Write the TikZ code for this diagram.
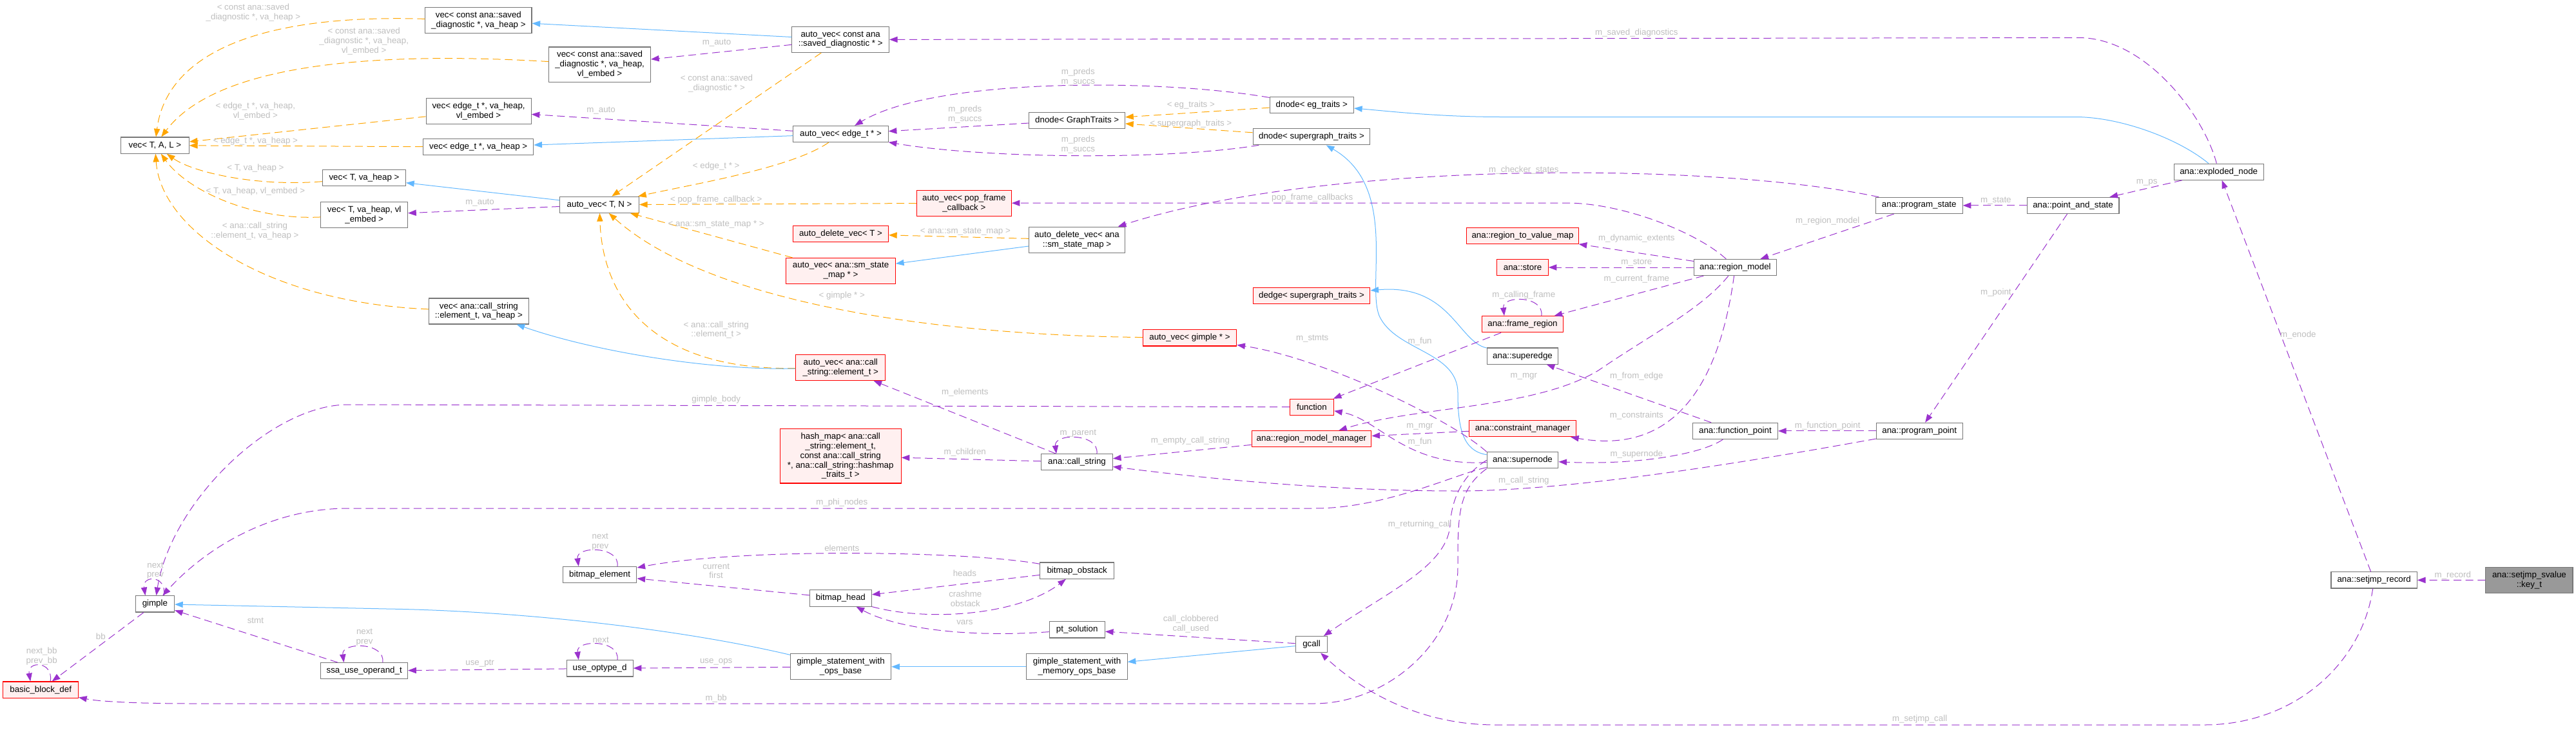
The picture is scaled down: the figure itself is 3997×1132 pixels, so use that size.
\documentclass[tikz,border=0pt]{standalone}
\usepackage{fontspec}
\setmainfont{Liberation Sans}
\usetikzlibrary{arrows.meta}

\definecolor{memberline}{HTML}{9A32CD}
\definecolor{templline}{HTML}{FFA500}
\definecolor{inheritblue}{HTML}{63B8FF}
\definecolor{boxgray}{HTML}{777777}
\definecolor{redfill}{HTML}{FFF0F0}
\definecolor{keyfill}{HTML}{999999}
\definecolor{labelgray}{HTML}{BEBEBE}

\begin{document}
\begin{tikzpicture}[x=0.75pt, y=-0.75pt,
  font=\fontsize{10}{11.1}\selectfont,
  cls/.style={rectangle, draw=boxgray, fill=white, line width=0.8pt, align=center, inner sep=2pt, minimum height=18.9pt},
  twolines/.style={minimum height=30pt},
  threelines/.style={minimum height=40.8pt},
  fivelines/.style={minimum height=63.3pt},
  undoc/.style={cls, draw=red, fill=redfill},
  focus/.style={cls, fill=keyfill},
  usage/.style={draw=memberline, line width=0.75pt, dash pattern=on 9pt off 5pt, -{Triangle[length=9.5pt,width=7pt]}},
  inst/.style={usage, draw=templline},
  inherit/.style={draw=inheritblue, line width=0.75pt, -{Triangle[length=9.5pt,width=7pt]}},
  elabel/.style={text=labelgray, align=center, inner sep=0pt}]
\useasboundingbox (0,0) rectangle (3997,1132);

% vec and auto_vec family
\node[cls, minimum width=79.4pt] (vecTAL) at (240.4,225.6) {vec< T, A, L >};
\node[cls, minimum width=96.8pt] (vecTva) at (565,276.3) {vec< T, va\_heap >};
\node[cls, twolines, minimum width=101.1pt] (vecTvl) at (565.2,333.7) {vec< T, va\_heap, vl\\\_embed >};
\node[cls, twolines, minimum width=123.9pt] (vecSDva) at (742.4,31.9) {vec< const ana::saved\\\_diagnostic *, va\_heap >};
\node[cls, twolines, minimum width=122.3pt] (vecEvl) at (742.6,172.2) {vec< edge\_t *, va\_heap,\\vl\_embed >};
\node[cls, minimum width=128.3pt] (vecEva) at (742.2,228.1) {vec< edge\_t *, va\_heap >};
\node[cls, twolines, minimum width=115.9pt] (vecCSva) at (742.9,483) {vec< ana::call\_string\\::element\_t, va\_heap >};
\node[cls, threelines, minimum width=118.2pt] (vecSDvl) at (930.6,100.2) {vec< const ana::saved\\\_diagnostic *, va\_heap,\\vl\_embed >};
\node[cls, minimum width=92.1pt] (autovecTN) at (930.1,317.8) {auto\_vec< T, N >};
\node[cls, twolines, minimum width=112.9pt] (autovecSD) at (1304.2,61.5) {auto\_vec< const ana\\::saved\_diagnostic * >};
\node[cls, minimum width=110.5pt] (autovecE) at (1304.5,208) {auto\_vec< edge\_t * >};
\node[undoc, minimum width=111pt] (autodelT) at (1304.5,363) {auto\_delete\_vec< T >};
\node[undoc, twolines, minimum width=127.3pt] (autovecSM) at (1304.5,420.4) {auto\_vec< ana::sm\_state\\\_map * >};
\node[undoc, twolines, minimum width=104.3pt] (autovecCS) at (1304.3,570.5) {auto\_vec< ana::call\\\_string::element\_t >};
\node[undoc, fivelines, minimum width=140.9pt] (hashmap) at (1304.2,707.8) {hash\_map< ana::call\\\_string::element\_t,\\ const ana::call\_string\\ *, ana::call\_string::hashmap\\\_traits\_t >};
\node[undoc, twolines, minimum width=110.2pt] (popframe) at (1495.8,315.2) {auto\_vec< pop\_frame\\\_callback >};
\node[cls, twolines, minimum width=111.8pt] (autodelSM) at (1671,372.2) {auto\_delete\_vec< ana\\::sm\_state\_map >};
\node[undoc, minimum width=109.1pt] (autovecG) at (1846,524.4) {auto\_vec< gimple * >};
% graph nodes and edges
\node[cls, minimum width=111.5pt] (dnodeGT) at (1671.2,186.7) {dnode< GraphTraits >};
\node[cls, minimum width=97.7pt] (dnodeEG) at (2035.3,162.8) {dnode< eg\_traits >};
\node[cls, minimum width=136.3pt] (dnodeSG) at (2035,212.2) {dnode< supergraph\_traits >};
\node[undoc, minimum width=136.3pt] (dedgeSG) at (2035,458.9) {dedge< supergraph\_traits >};
% analyzer classes
\node[undoc, minimum width=129.9pt] (r2v) at (2362.5,366) {ana::region\_to\_value\_map};
\node[undoc, minimum width=59.6pt] (store) at (2362.5,415) {ana::store};
\node[undoc, minimum width=95.1pt] (frame) at (2362.5,503.3) {ana::frame\_region};
\node[cls, minimum width=83pt] (superedge) at (2362.5,552.6) {ana::superedge};
\node[undoc, minimum width=124.5pt] (cm) at (2362.5,665.2) {ana::constraint\_manager};
\node[cls, minimum width=83pt] (supernode) at (2362.5,714.3) {ana::supernode};
\node[undoc, minimum width=51.2pt] (function) at (2035.4,631.7) {function};
\node[undoc, minimum width=139.3pt] (rmm) at (2034.9,681.1) {ana::region\_model\_manager};
\node[cls, minimum width=37.2pt] (gcall) at (2035,1000.2) {gcall};
\node[cls, minimum width=95.8pt] (regionmodel) at (2692.4,415) {ana::region\_model};
\node[cls, minimum width=99.1pt] (fpoint) at (2692.4,668.9) {ana::function\_point};
\node[cls, minimum width=101.1pt] (progstate) at (2977.7,318.9) {ana::program\_state};
\node[cls, minimum width=100.4pt] (ppoint) at (2978.2,668.9) {ana::program\_point};
\node[cls, minimum width=107.2pt] (pands) at (3216.5,318.9) {ana::point\_and\_state};
\node[cls, minimum width=104pt] (enode) at (3442.7,266.7) {ana::exploded\_node};
\node[cls, minimum width=100pt] (sjrecord) at (3683.6,900.4) {ana::setjmp\_record};
\node[focus, twolines, minimum width=101.3pt] (keyt) at (3924.4,900.2) {ana::setjmp\_svalue\\::key\_t};
% gcc internals
\node[cls, minimum width=83pt] (callstring) at (1671,717.2) {ana::call\_string};
\node[cls, minimum width=86pt] (bmobstack) at (1671.2,885.6) {bitmap\_obstack};
\node[cls, minimum width=64.7pt] (ptsol) at (1671.2,977.4) {pt\_solution};
\node[cls, twolines, minimum width=117.2pt] (gswmob) at (1671,1034.8) {gimple\_statement\_with\\\_memory\_ops\_base};
\node[cls, twolines, minimum width=117.2pt] (gswob) at (1304.5,1034.8) {gimple\_statement\_with\\\_ops\_base};
\node[cls, minimum width=72pt] (bmhead) at (1304.3,928.5) {bitmap\_head};
\node[cls, minimum width=86pt] (bmelem) at (930.6,892.2) {bitmap\_element};
\node[cls, minimum width=77.3pt] (useopt) at (930.6,1037.4) {use\_optype\_d};
\node[cls, minimum width=101.1pt] (ssause) at (565.2,1041.3) {ssa\_use\_operand\_t};
\node[cls, minimum width=45.2pt] (gimple) at (240.4,937.4) {gimple};
\node[undoc, minimum width=87.4pt] (bbdef) at (63.2,1070.6) {basic\_block\_def};

% Template instances
\draw[inst] (vecSDva) .. controls (350,20) and (255,110) .. (vecTAL)
  node[elabel] (e1) at (392.9,19.3) {< const ana::saved\\\_diagnostic *, va\_heap >};
\draw[inst] (vecSDvl) .. controls (500,75) and (320,120) .. (vecTAL)
  node[elabel] (e2) at (564.7,63.7) {< const ana::saved\\\_diagnostic *, va\_heap,\\vl\_embed >};
\draw[inst] (vecEvl) -- (vecTAL) node[elabel] (e3) at (396.4,172.6) {< edge\_t *, va\_heap,\\vl\_embed >};
\draw[inst] (vecEva) -- (vecTAL) node[elabel] (e4) at (396.4,219.3) {< edge\_t *, va\_heap >};
\draw[inst] (vecTva) .. controls (400,290) and (300,268) .. (vecTAL) node[elabel] (e5) at (396.4,261.5) {< T, va\_heap >};
\draw[inst] (vecTvl) .. controls (390,342) and (290,295) .. (vecTAL) node[elabel] (e6) at (396.4,297.4) {< T, va\_heap, vl\_embed >};
\draw[inst] (vecCSva) .. controls (420,470) and (250,360) .. (vecTAL)
  node[elabel] (e7) at (395.5,358.3) {< ana::call\_string\\::element\_t, va\_heap >};
\draw[inst] (autovecSD) -- (autovecTN) node[elabel] (e8) at (1112,129.6) {< const ana::saved\\\_diagnostic * >};
\draw[inst] (autovecE) .. controls (1230,260) and (1080,285) .. (autovecTN) node[elabel] (e9) at (1111.2,257.8) {< edge\_t * >};
\draw[inst] (popframe) -- (autovecTN) node[elabel] (e10) at (1111.2,309.6) {< pop\_frame\_callback >};
\draw[inst] (autovecSM) -- (autovecTN) node[elabel] (e11) at (1111.2,348.1) {< ana::sm\_state\_map * >};
\draw[inst] (autovecG) .. controls (1450,520) and (1100,470) .. (autovecTN) node[elabel] (e12) at (1306.3,459.3) {< gimple * >};
\draw[inst] (autovecCS) .. controls (1020,575) and (935,470) .. (autovecTN)
  node[elabel] (e13) at (1111.2,511.9) {< ana::call\_string\\::element\_t >};
\draw[inst] (autodelSM) -- (autodelT) node[elabel] (e14) at (1497.8,359.3) {< ana::sm\_state\_map >};
\draw[inst] (dnodeEG) -- (dnodeGT) node[elabel] (e15) at (1847.8,163) {< eg\_traits >};
\draw[inst] (dnodeSG) -- (dnodeGT) node[elabel] (e16) at (1847.8,192.2) {< supergraph\_traits >};

% Base classes
\draw[inherit] (autovecSD) -- (vecSDva);
\draw[inherit] (autovecE) -- (vecEva);
\draw[inherit] (autovecTN) -- (vecTva);
\draw[inherit] (autovecCS) .. controls (1100,575) and (920,545) .. (vecCSva);
\draw[inherit] (autodelSM) -- (autovecSM);
\draw[inherit] (enode) .. controls (3380,215) and (3290,181.5) .. (3220,181.5) -- (2330,181.5)
  .. controls (2230,181.5) and (2150,172) .. (dnodeEG);
\draw[inherit] (supernode) .. controls (2270,700) and (2262,665) .. (2262,610)
  .. controls (2262,545) and (2165,545) .. (2140,490) .. controls (2120,440) and (2170,290) .. (dnodeSG);
\draw[inherit] (superedge) .. controls (2262,530) and (2250,440) .. (dedgeSG);
\draw[inherit] (gswob) .. controls (1050,975) and (800,948) .. (600,945) -- (gimple);
\draw[inherit] (gswmob) -- (gswob);
\draw[inherit] (gcall) -- (gswmob);

% Members
\draw[usage] (enode) .. controls (3420,180) and (3330,58.5) .. (3225,58.5) -- (autovecSD)
  node[elabel] (e17) at (2539.3,50.7) {m\_saved\_diagnostics};
\draw[usage] (autovecSD) -- (vecSDvl) node[elabel] (e18) at (1112,66.7) {m\_auto};
\draw[usage] (autovecE) -- (vecEvl) node[elabel] (e19) at (932.6,171.1) {m\_auto};
\draw[usage] (autovecTN) -- (vecTvl) node[elabel] (e20) at (744.6,314.8) {m\_auto};
\draw[usage] (dnodeGT) -- (autovecE) node[elabel] (e21) at (1497.3,177.8) {m\_preds\\m\_succs};
\draw[usage] (dnodeEG) .. controls (1800,122) and (1450,120) .. (autovecE) node[elabel] (e22) at (1672.8,119.3) {m\_preds\\m\_succs};
\draw[usage] (dnodeSG) .. controls (1800,250) and (1520,245) .. (autovecE) node[elabel] (e23) at (1672.8,224.8) {m\_preds\\m\_succs};
\draw[usage] (regionmodel) .. controls (2635,362) and (2520,315) .. (2430,315) -- (popframe)
  node[elabel] (e24) at (2036.2,307.4) {pop\_frame\_callbacks};
\draw[usage] (progstate) .. controls (2650,250) and (2050,250) .. (autodelSM) node[elabel] (e25) at (2364.3,264) {m\_checker\_states};
\draw[usage] (progstate) -- (regionmodel) node[elabel] (e26) at (2835.7,343.3) {m\_region\_model};
\draw[usage] (pands) -- (progstate) node[elabel] (e27) at (3096.9,311.1) {m\_state};
\draw[usage] (enode) -- (pands) node[elabel] (e28) at (3331.1,283.3) {m\_ps};
\draw[usage] (pands) -- (ppoint) node[elabel] (e29) at (3096.9,453.7) {m\_point};
\draw[usage] (ppoint) -- (fpoint) node[elabel] (e30) at (2835.7,660.7) {m\_function\_point};
\draw[usage] (fpoint) .. controls (2640,705) and (2540,722) .. (supernode) node[elabel] (e31) at (2539.3,704.8) {m\_supernode};
\draw[usage] (ppoint) .. controls (2750,710) and (2450,762) .. (2262,762) .. controls (2050,762) and (1850,740) .. (callstring)
  node[elabel] (e32) at (2364.3,746.3) {m\_call\_string};
\draw[usage] (regionmodel) .. controls (2640,480) and (2560,520) .. (2480,575) .. controls (2380,635) and (2200,630) .. (rmm)
  node[elabel] (e33) at (2364.3,584.1) {m\_mgr};
\draw[usage] (regionmodel) .. controls (2660,650) and (2560,700) .. (cm) node[elabel] (e34) at (2539.3,644.8) {m\_constraints};
\draw[usage] (regionmodel) -- (r2v) node[elabel] (e35) at (2539.3,369.6) {m\_dynamic\_extents};
\draw[usage] (regionmodel) -- (store) node[elabel] (e36) at (2539.3,407.4) {m\_store};
\draw[usage] (regionmodel) -- (frame) node[elabel] (e37) at (2539.3,433.3) {m\_current\_frame};
\draw[usage] ([xshift=22pt]frame.north) .. controls ([xshift=25pt,yshift=24pt]frame.north) and ([xshift=-24pt,yshift=24pt]frame.north) .. ([xshift=-21.4pt]frame.north)
  node[elabel] (e38) at (2364.3,458.5) {m\_calling\_frame};
\draw[usage] (supernode) .. controls (2180,725) and (2140,650) .. (function) node[elabel] (e39) at (2203.1,686.3) {m\_fun};
\draw[usage] (frame) -- (function) node[elabel] (e40) at (2203.1,529.6) {m\_fun};
\draw[usage] (supernode.north west) .. controls (2250,650) and (2050,555) .. (autovecG) node[elabel] (e41) at (2036.2,525.9) {m\_stmts};
\draw[usage] (supernode.west) .. controls (2265,740) and (2252,780) .. (2250,815) .. controls (2245,880) and (2150,920) .. (gcall)
  node[elabel] (e42) at (2203.1,814.1) {m\_returning\_call};
\draw[usage] (supernode.south west) .. controls (2262,760) and (2262,800) .. (2262,880) .. controls (2262,1000) and (2150,1092) .. (2039,1092)
  -- (300,1092) .. controls (200,1092) and (150,1088) .. (bbdef) node[elabel] (e43) at (1111.2,1083.7) {m\_bb};
\draw[usage] (supernode) .. controls (2260,735) and (2150,789) .. (2040,789) -- (540,789) .. controls (420,789) and (320,850) .. (gimple)
  node[elabel] (e44) at (1306.3,780.4) {m\_phi\_nodes};
\draw[usage] (function) -- (540,628) .. controls (420,628) and (265,780) .. (gimple) node[elabel] (e45) at (1111.2,619.6) {gimple\_body};
\draw[usage] (callstring) -- (autovecCS) node[elabel] (e46) at (1497.3,609.3) {m\_elements};
\draw[usage] ([xshift=23.2pt]callstring.north) .. controls ([xshift=26pt,yshift=24pt]callstring.north) and ([xshift=-27pt,yshift=24pt]callstring.north) .. ([xshift=-24pt]callstring.north)
  node[elabel] (e47) at (1672.8,672.2) {m\_parent};
\draw[usage] (callstring) -- (hashmap) node[elabel] (e48) at (1497.3,702.2) {m\_children};
\draw[usage] (rmm) -- (callstring) node[elabel] (e49) at (1846.9,683.7) {m\_empty\_call\_string};
\draw[usage] (cm) -- (rmm) node[elabel] (e50) at (2203.1,662.2) {m\_mgr};
\draw[usage] (fpoint) -- (superedge) node[elabel] (e51) at (2539.3,584.1) {m\_from\_edge};
\draw[usage] (sjrecord) -- (enode) node[elabel] (e52) at (3565.8,519.6) {m\_enode};
\draw[usage] (sjrecord) .. controls (3665,1030) and (3560,1125) .. (3420,1125) -- (2320,1125) .. controls (2200,1125) and (2110,1070) .. (gcall)
  node[elabel] (e53) at (2978.6,1116) {m\_setjmp\_call};
\draw[usage] (keyt) -- (sjrecord) node[elabel] (e54) at (3805.8,892.6) {m\_record};
\draw[usage] (gcall) -- (ptsol) node[elabel] (e55) at (1847.8,968.5) {call\_clobbered\\call\_used};
\draw[usage] (ptsol) .. controls (1500,990) and (1390,975) .. (bmhead) node[elabel] (e56) at (1496.9,965.9) {vars};
\draw[usage] (bmobstack) -- (bmhead) node[elabel] (e57) at (1496.9,889.6) {heads};
\draw[usage] (bmhead) .. controls (1440,965) and (1580,955) .. (bmobstack) node[elabel] (e58) at (1497.8,928.9) {crashme\\obstack};
\draw[usage] (bmobstack) .. controls (1500,855) and (1150,850) .. (bmelem) node[elabel] (e59) at (1306.3,851.1) {elements};
\draw[usage] (bmhead) -- (bmelem) node[elabel] (e60) at (1111.2,886.3) {current\\first};
\draw[usage] ([xshift=20.5pt]bmelem.north) .. controls ([xshift=24pt,yshift=24pt]bmelem.north) and ([xshift=-28pt,yshift=24pt]bmelem.north) .. ([xshift=-24.6pt]bmelem.north)
  node[elabel] (e61) at (931.3,840.7) {next\\prev};
\draw[usage] ([xshift=20.5pt]useopt.north) .. controls ([xshift=24pt,yshift=24pt]useopt.north) and ([xshift=-28pt,yshift=24pt]useopt.north) .. ([xshift=-24.6pt]useopt.north)
  node[elabel] (e62) at (932.1,993) {next};
\draw[usage] (gswob) -- (useopt) node[elabel] (e63) at (1111.2,1027) {use\_ops};
\draw[usage] (useopt) -- (ssause) node[elabel] (e64) at (744.6,1030) {use\_ptr};
\draw[usage] ([xshift=21.4pt]ssause.north) .. controls ([xshift=25pt,yshift=24pt]ssause.north) and ([xshift=-27pt,yshift=24pt]ssause.north) .. ([xshift=-23.8pt]ssause.north)
  node[elabel] (e65) at (565.6,989.4) {next\\prev};
\draw[usage] (ssause) -- (gimple) node[elabel] (e66) at (396.4,963) {stmt};
\draw[usage] (gimple) -- (bbdef) node[elabel] (e67) at (156.3,988.1) {bb};
\draw[usage] ([xshift=10.5pt]gimple.north) .. controls ([xshift=14pt,yshift=24pt]gimple.north) and ([xshift=-15pt,yshift=24pt]gimple.north) .. ([xshift=-11.2pt]gimple.north)
  node[elabel] (e68) at (241,885.6) {next\\prev};
\draw[usage] ([xshift=11.2pt]bbdef.north) .. controls ([xshift=15pt,yshift=24pt]bbdef.north) and ([xshift=-16pt,yshift=24pt]bbdef.north) .. ([xshift=-12pt]bbdef.north)
  node[elabel] (e69) at (64.7,1018.9) {next\_bb\\prev\_bb};
\end{tikzpicture}
\end{document}
